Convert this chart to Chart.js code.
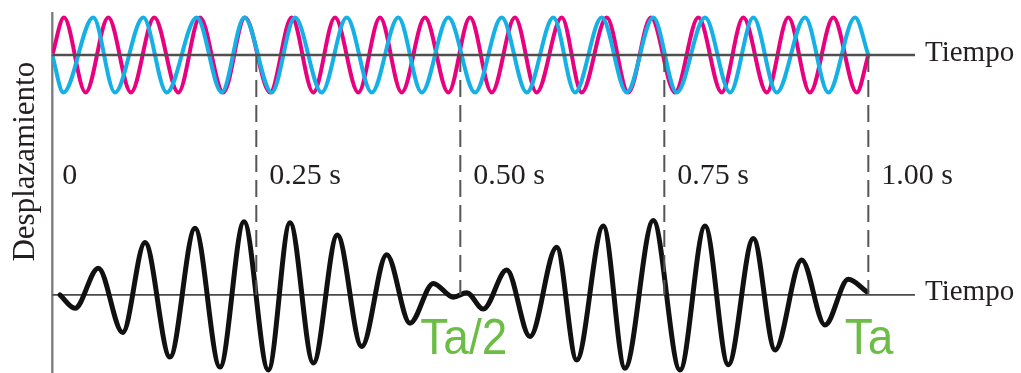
<!DOCTYPE html>
<html>
<head>
<meta charset="utf-8">
<script src="https://cdn.jsdelivr.net/npm/chart.js@4.4.1/dist/chart.umd.min.js"></script>
<style>
  html, body { margin: 0; padding: 0; background: #ffffff; }
  #c { display: block; }
</style>
</head>
<body>
<canvas id="c" width="1021" height="373"></canvas>
<script>
// Time marks along the axis (s) and their labels
const tickTimes = [0, 0.25, 0.5, 0.75, 1.0];
const tickLabels = ['0', '0.25 s', '0.50 s', '0.75 s', '1.00 s'];
const axisLabel = 'Tiempo';
const yTitle = 'Desplazamiento';
const beatLabels = ['Ta/2', 'Ta'];
const beatTimes = [0.5, 1.0];

// First tone (magenta): start, crests/troughs, end
const toneATimes = [0, 0.0143, 0.0409, 0.0686, 0.0964, 0.1250, 0.1544, 0.1810, 0.2096, 0.2362,
  0.2668, 0.2934, 0.3199, 0.3464, 0.3750, 0.4016, 0.4282, 0.4567, 0.4853, 0.5119,
  0.5385, 0.5670, 0.5936, 0.6243, 0.6488, 0.6794, 0.7059, 0.7337, 0.7631, 0.7917,
  0.8203, 0.8468, 0.8755, 0.9020, 0.9285, 0.9571, 0.9858, 1.0];
const toneAValues = [0, 1, -1, 1, -1, 1, -1, 1, -1, 1,
  -1, 1, -1, 1, -1, 1, -1, 1, -1, 1,
  -1, 1, -1, 1, -1, 1, -1, 1, -1, 1,
  -1, 1, -1, 1, -1, 1, -1, 0];

// Second tone (cyan)
const toneBTimes = [0, 0.0135, 0.0502, 0.0768, 0.1115, 0.1402, 0.1770, 0.2076, 0.2353, 0.2689,
  0.2974, 0.3301, 0.3608, 0.3914, 0.4240, 0.4527, 0.4853, 0.5180, 0.5507, 0.5814,
  0.6140, 0.6406, 0.6733, 0.7039, 0.7365, 0.7652, 0.7999, 0.8306, 0.8591, 0.8877,
  0.9225, 0.9510, 0.9837, 1.0];
const toneBValues = [0, -1, 1, -1, 1, -1, 1, -1, 1, -1,
  1, -1, 1, -1, 1, -1, 1, -1, 1, -1,
  1, -1, 1, -1, 1, -1, 1, -1, 1, -1,
  1, -1, 1, 0];

// Resulting displacement (sum of both tones)
const sumTimes = [0.0094, 0.0278, 0.0564, 0.0863, 0.1136, 0.1442, 0.1749, 0.2055, 0.2349, 0.2647,
  0.2913, 0.3199, 0.3493, 0.3792, 0.4098, 0.4384, 0.4669, 0.4914, 0.5078, 0.5282,
  0.5569, 0.5854, 0.6181, 0.6426, 0.6752, 0.7018, 0.7365, 0.7692, 0.7999, 0.8284,
  0.8591, 0.8857, 0.9184, 0.9469, 0.9755, 0.9980];
const sumValues = [0, -0.36, 0.72, -1.01, 1.41, -1.67, 1.79, -1.94, 1.97, -2.02,
  1.94, -1.83, 1.61, -1.39, 1.08, -0.76, 0.31, -0.06, 0.06, -0.38,
  0.67, -1.12, 1.28, -1.75, 1.85, -1.97, 2.0, -2.02, 1.85, -1.88,
  1.52, -1.48, 0.94, -0.81, 0.42, 0.09];

const toPoints = (ts, vs) => ts.map((t, i) => ({ x: t, y: vs[i] }));

const SERIF = '"Liberation Serif", "Times New Roman", serif';
const SANS = '"Liberation Sans", Arial, sans-serif';

const decor = {
  id: 'decor',
  beforeDatasetsDraw(chart) {
    const { ctx } = chart;
    const xs = chart.scales.x, yt = chart.scales.yTop, yb = chart.scales.yBot;
    const x0 = xs.getPixelForValue(0);
    ctx.save();
    // vertical displacement axis
    ctx.strokeStyle = '#7a7a7a';
    ctx.lineWidth = 2.3;
    ctx.beginPath();
    ctx.moveTo(x0, yt.getPixelForValue(1.15));
    ctx.lineTo(x0, chart.height);
    ctx.stroke();
    // lower time axis
    const yb0 = yb.getPixelForValue(0);
    ctx.strokeStyle = '#4a4a4a';
    ctx.lineWidth = 1.8;
    ctx.beginPath();
    ctx.moveTo(x0, yb0);
    ctx.lineTo(xs.right, yb0);
    ctx.stroke();
    ctx.restore();
  },
  afterDatasetsDraw(chart) {
    const { ctx } = chart;
    const xs = chart.scales.x, yt = chart.scales.yTop, yb = chart.scales.yBot;
    const x0 = xs.getPixelForValue(0);
    const yt0 = yt.getPixelForValue(0);
    const yb0 = yb.getPixelForValue(0);
    ctx.save();
    // upper time axis
    ctx.strokeStyle = '#505050';
    ctx.lineWidth = 2.5;
    ctx.beginPath();
    ctx.moveTo(x0, yt0);
    ctx.lineTo(xs.right, yt0);
    ctx.stroke();

    // dashed time markers
    ctx.strokeStyle = '#555555';
    ctx.lineWidth = 2;
    ctx.setLineDash([17, 8]);
    tickTimes.forEach(t => {
      if (t === 0) return;
      const px = xs.getPixelForValue(t);
      ctx.beginPath();
      ctx.moveTo(px, yt0);
      ctx.lineTo(px, yb0);
      ctx.stroke();
    });
    ctx.setLineDash([]);

    // time labels
    ctx.fillStyle = '#231f20';
    ctx.font = '30px ' + SERIF;
    ctx.textAlign = 'left';
    ctx.textBaseline = 'alphabetic';
    tickTimes.forEach((t, i) => {
      const px = xs.getPixelForValue(t) + (t === 0 ? 10 : 13);
      ctx.fillText(tickLabels[i], px, 184);
    });

    // axis names
    ctx.font = '29px ' + SERIF;
    ctx.textBaseline = 'middle';
    ctx.fillText(axisLabel, xs.right + 10, yt0 - 2);
    ctx.fillText(axisLabel, xs.right + 10, yb0 - 3);

    ctx.save();
    ctx.translate(33.5, 161.7);
    ctx.rotate(-Math.PI / 2);
    ctx.font = '31px ' + SERIF;
    ctx.textAlign = 'center';
    ctx.textBaseline = 'alphabetic';
    ctx.fillText(yTitle, 0, 0);
    ctx.restore();

    // beat period labels
    ctx.fillStyle = '#6cbd45';
    ctx.font = '50px ' + SANS;
    ctx.textAlign = 'left';
    ctx.textBaseline = 'alphabetic';
    const offs = [-40, -23.5];
    beatTimes.forEach((t, i) => {
      const px = xs.getPixelForValue(t) + offs[i];
      ctx.save();
      ctx.translate(px, 354);
      ctx.scale(0.92, 1);
      ctx.fillText(beatLabels[i], 0, 0);
      ctx.restore();
    });
    ctx.restore();
  }
};

new Chart(document.getElementById('c'), {
  type: 'line',
  data: {
    datasets: [
      {
        label: 'Tono 2',
        data: toPoints(toneBTimes, toneBValues),
        yAxisID: 'yTop',
        borderColor: '#14b0e6',
        borderWidth: 4,
        order: 0
      },
      {
        label: 'Tono 1',
        data: toPoints(toneATimes, toneAValues),
        yAxisID: 'yTop',
        borderColor: '#e8007f',
        borderWidth: 4,
        order: 1
      },
      {
        label: 'Suma',
        data: toPoints(sumTimes, sumValues),
        yAxisID: 'yBot',
        borderColor: '#111111',
        borderWidth: 5,
        order: 2
      }
    ]
  },
  options: {
    responsive: false,
    animation: false,
    devicePixelRatio: 1,
    layout: { padding: { left: 52.3, right: 106, top: 0, bottom: 0 } },
    elements: {
      point: { radius: 0 },
      line: { cubicInterpolationMode: 'monotone', fill: false, borderCapStyle: 'round', borderJoinStyle: 'round' }
    },
    plugins: { legend: { display: false }, tooltip: { enabled: false } },
    scales: {
      x: { type: 'linear', min: 0, max: 1.0572, display: false },
      yTop: { type: 'linear', min: -8.48, max: 1.467, display: false },
      yBot: { type: 'linear', min: -2.1, max: 7.93, display: false }
    }
  },
  plugins: [decor]
});
</script>
</body>
</html>
